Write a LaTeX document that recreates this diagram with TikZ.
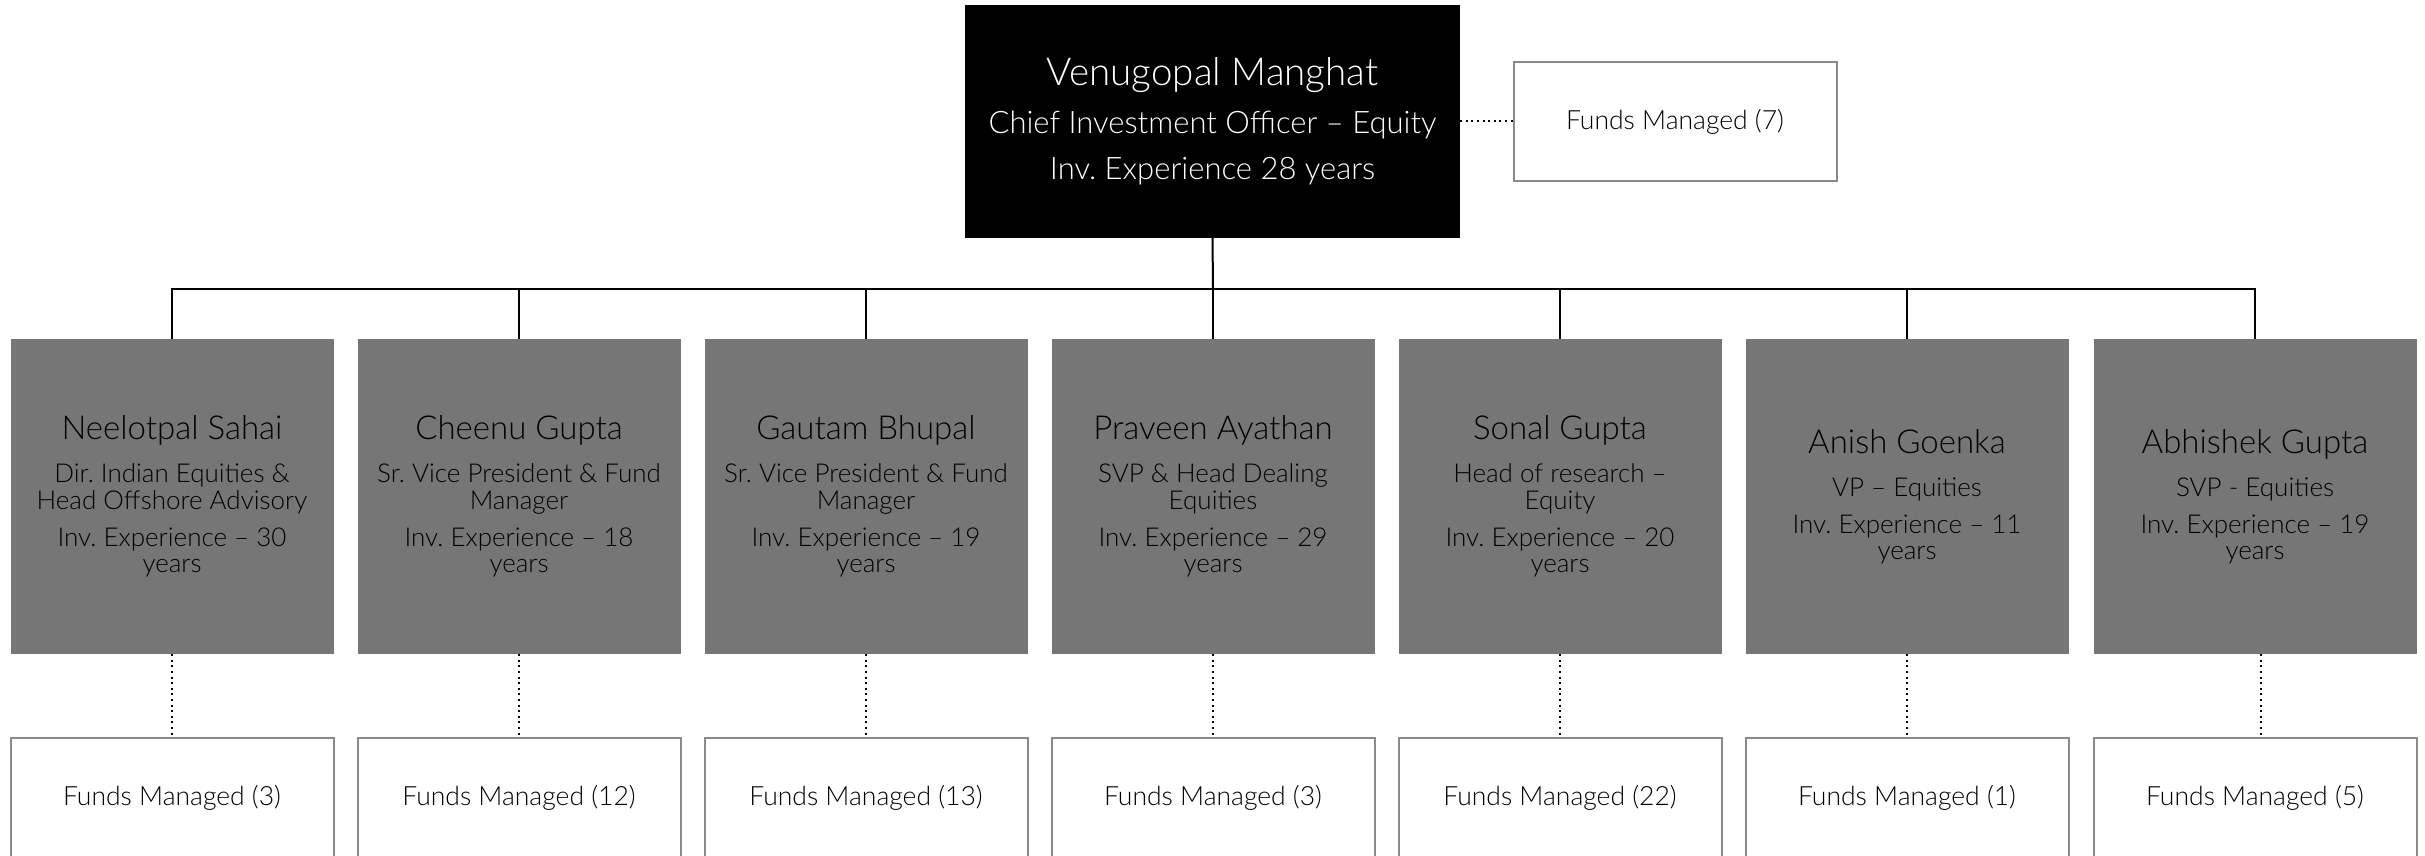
\documentclass[tikz,border=0pt]{standalone}
\usepackage{fontspec}
\setmainfont{Lato Light}
\definecolor{boxgray}{HTML}{767676}
\definecolor{edgegray}{HTML}{8A8A8A}
\newcommand\nsp{\spaceskip=\fontdimen2\font\xspaceskip=\fontdimen2\font\relax}
\newcommand\pcard[3]{{\fontsize{33}{38}\selectfont\nsp #1\par}\vspace{16pt}{\fontsize{26}{27}\selectfont\nsp #2\par}\vspace{11pt}{\fontsize{26}{26}\selectfont\nsp #3\par}}
\tikzset{
  person/.style={fill=boxgray, minimum width=323pt, minimum height=315pt, text width=323pt, inner sep=0pt, align=center, text=black},
  fundbox/.style={draw=edgegray, line width=2pt, fill=white, minimum width=323pt, minimum height=119pt, inner sep=0pt, font=\fontsize{26.5}{30}\selectfont},
  chief/.style={fill=black, text=white, minimum width=495pt, minimum height=233pt, text width=495pt, inner sep=0pt, align=center},
  conn/.style={draw=black, line width=2pt},
  dotconn/.style={draw=black, line width=2pt, dash pattern=on 2pt off 3.6pt}
}
\begin{document}
\begin{tikzpicture}[x=1pt,y=-1pt]
\useasboundingbox (0,0) rectangle (2425,856);
\clip (0,0) rectangle (2425,856);
\node[chief] (top) at (1212.5,121.5) {{\fontsize{38.5}{44}\selectfont\nsp Venugopal Manghat\par}\vspace{2pt}{\fontsize{31}{46}\selectfont\nsp Chief Investment Officer -- Equity\\Inv. Experience 28 years\par}};
\node[fundbox] (f0) at (1675,121.5) {Funds Managed (7)};
\draw[dotconn] (top.east) -- (f0.west);

\node[person] (g1) at (172,496.5) {\pcard{Neelotpal Sahai}{Dir. Indian Equities \&\\Head Offshore Advisory}{Inv. Experience -- 30\\years}};
\node[person] (g2) at (519,496.5) {\pcard{Cheenu Gupta}{Sr. Vice President \& Fund\\Manager}{Inv. Experience -- 18\\years}};
\node[person] (g3) at (866,496.5) {\pcard{Gautam Bhupal}{Sr. Vice President \& Fund\\Manager}{Inv. Experience -- 19\\years}};
\node[person] (g4) at (1213,496.5) {\pcard{Praveen Ayathan}{SVP \& Head Dealing\\Equities}{Inv. Experience -- 29\\years}};
\node[person] (g5) at (1560,496.5) {\pcard{Sonal Gupta}{Head of research --\\Equity}{Inv. Experience -- 20\\years}};
\node[person] (g6) at (1907,496.5) {\pcard{Anish Goenka}{VP -- Equities}{Inv. Experience -- 11\\years}};
\node[person] (g7) at (2255,496.5) {\pcard{Abhishek Gupta}{SVP - Equities}{Inv. Experience -- 19\\years}};

\node[fundbox, minimum height=120pt] (b1) at (172,798) {Funds Managed (3)};
\node[fundbox, minimum height=120pt] (b2) at (519,798) {Funds Managed (12)};
\node[fundbox, minimum height=120pt] (b3) at (866,798) {Funds Managed (13)};
\node[fundbox, minimum height=120pt] (b4) at (1213,798) {Funds Managed (3)};
\node[fundbox, minimum height=120pt] (b5) at (1560,798) {Funds Managed (22)};
\node[fundbox, minimum height=120pt] (b6) at (1907,798) {Funds Managed (1)};
\node[fundbox, minimum height=120pt] (b7) at (2255,798) {Funds Managed (5)};

\coordinate (bus) at (1213,289);
\draw[conn] (top.south) -- (bus);
\foreach \i in {1,...,7}{
  \draw[conn] (bus) -| (g\i.north);
}
\foreach \i in {1,...,6}{
  \draw[dotconn] (g\i.south) -- (b\i.north);
}
\draw[dotconn] ([xshift=6pt]g7.south) -- ([xshift=6pt]b7.north);
\end{tikzpicture}
\end{document}
